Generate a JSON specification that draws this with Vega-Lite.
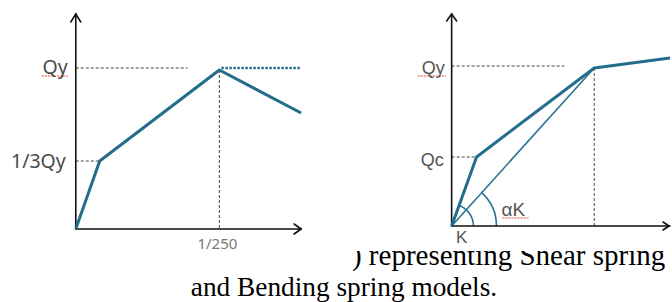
{
  "$schema": "https://vega.github.io/schema/vega-lite/v6.json",
  "width": 672,
  "height": 302,
  "autosize": {"type": "fit", "contains": "padding"},
  "padding": 0,
  "background": "white",
  "config": {"view": {"stroke": null}},
  "datasets": {
    "curves": [
      {"g": "L", "i": 0, "x": 76, "y": 229},
      {"g": "L", "i": 1, "x": 100, "y": 161},
      {"g": "L", "i": 2, "x": 220, "y": 70},
      {"g": "L", "i": 3, "x": 302, "y": 113},
      {"g": "R", "i": 0, "x": 453, "y": 226},
      {"g": "R", "i": 1, "x": 478, "y": 157},
      {"g": "R", "i": 2, "x": 596, "y": 68},
      {"g": "R", "i": 3, "x": 672, "y": 58}
    ],
    "segs": [
      {"k": "axis", "x": 76, "y": 229, "x2": 76, "y2": 14},
      {"k": "axis", "x": 76, "y": 229, "x2": 302, "y2": 229},
      {"k": "axis", "x": 76, "y": 14, "x2": 71, "y2": 22},
      {"k": "axis", "x": 76, "y": 14, "x2": 81, "y2": 22},
      {"k": "axis", "x": 302, "y": 229, "x2": 295, "y2": 224},
      {"k": "axis", "x": 302, "y": 229, "x2": 295, "y2": 234},
      {"k": "axis", "x": 453, "y": 226, "x2": 453, "y2": 14},
      {"k": "axis", "x": 453, "y": 226, "x2": 672, "y2": 226},
      {"k": "axis", "x": 453, "y": 14, "x2": 448, "y2": 21},
      {"k": "axis", "x": 453, "y": 14, "x2": 458, "y2": 21},
      {"k": "axis", "x": 671, "y": 226, "x2": 665, "y2": 222},
      {"k": "axis", "x": 671, "y": 226, "x2": 665, "y2": 230},
      {"k": "dash", "x": 76, "y": 68, "x2": 188, "y2": 68},
      {"k": "dash", "x": 76, "y": 161, "x2": 100, "y2": 161},
      {"k": "dash", "x": 220, "y": 70, "x2": 220, "y2": 229},
      {"k": "dash", "x": 453, "y": 66, "x2": 566, "y2": 66},
      {"k": "dash", "x": 453, "y": 157, "x2": 478, "y2": 157},
      {"k": "dash", "x": 596, "y": 68, "x2": 596, "y2": 226},
      {"k": "dot", "x": 222, "y": 68, "x2": 302, "y2": 68},
      {"k": "thin", "x": 453, "y": 226, "x2": 596, "y2": 68},
      {"k": "red", "x": 42, "y": 76, "x2": 69, "y2": 76},
      {"k": "red", "x": 419, "y": 76, "x2": 447, "y2": 76},
      {"k": "red", "x": 504, "y": 218, "x2": 531, "y2": 218},
      {"k": "mask", "x": 345, "y": 236, "x2": 672, "y2": 251}
    ],
    "origin": [{"x": 453, "y": 226}],
    "labels": [
      {"g": "lr", "x": 68, "y": 74, "t": "Qy"},
      {"g": "lr", "x": 66, "y": 168, "t": "1/3Qy"},
      {"g": "tick", "x": 218, "y": 249, "t": "1/250"},
      {"g": "rr", "x": 446, "y": 74, "t": "Qy"},
      {"g": "rr", "x": 445, "y": 166, "t": "Qc"},
      {"g": "rc", "x": 463, "y": 243, "t": "K"},
      {"g": "rl", "x": 503, "y": 216, "t": "αK"},
      {"g": "cap1", "x": 353, "y": 265, "t": ") representing Shear spring"},
      {"g": "cap2", "x": 345, "y": 296, "t": "and Bending spring models."}
    ]
  },
  "encoding": {
    "x": {"field": "x", "type": "quantitative", "scale": {"domain": [0, 672], "nice": false, "zero": false}, "axis": null},
    "y": {"field": "y", "type": "quantitative", "scale": {"domain": [0, 302], "nice": false, "zero": false, "reverse": true}, "axis": null}
  },
  "layer": [
    {
      "data": {"name": "labels"},
      "transform": [{"filter": "datum.g === 'cap1'"}],
      "mark": {"type": "text", "align": "left", "baseline": "alphabetic", "font": "Liberation Serif", "fontSize": 29, "color": "#000000"},
      "encoding": {"text": {"field": "t"}}
    },
    {
      "data": {"name": "segs"},
      "transform": [{"filter": "datum.k === 'mask'"}],
      "mark": {"type": "rect", "color": "white"},
      "encoding": {"x2": {"field": "x2"}, "y2": {"field": "y2"}}
    },
    {
      "data": {"name": "labels"},
      "transform": [{"filter": "datum.g === 'cap2'"}],
      "mark": {"type": "text", "align": "center", "baseline": "alphabetic", "font": "Liberation Serif", "fontSize": 27.3, "color": "#000000"},
      "encoding": {"text": {"field": "t"}}
    },
    {
      "data": {"name": "segs"},
      "transform": [{"filter": "datum.k === 'dash'"}],
      "mark": {"type": "rule", "color": "#444444", "strokeWidth": 1, "strokeDash": [3, 2]},
      "encoding": {"x2": {"field": "x2"}, "y2": {"field": "y2"}}
    },
    {
      "data": {"name": "segs"},
      "transform": [{"filter": "datum.k === 'red'"}],
      "mark": {"type": "rule", "color": "#e04848", "strokeWidth": 1, "strokeDash": [2, 1]},
      "encoding": {"x2": {"field": "x2"}, "y2": {"field": "y2"}}
    },
    {
      "data": {"name": "segs"},
      "transform": [{"filter": "datum.k === 'dot'"}],
      "mark": {"type": "rule", "color": "#2a6f90", "strokeWidth": 2.5, "strokeDash": [2.5, 1.5]},
      "encoding": {"x2": {"field": "x2"}, "y2": {"field": "y2"}}
    },
    {
      "data": {"name": "segs"},
      "transform": [{"filter": "datum.k === 'thin'"}],
      "mark": {"type": "rule", "color": "#2a7393", "strokeWidth": 1.6},
      "encoding": {"x2": {"field": "x2"}, "y2": {"field": "y2"}}
    },
    {
      "data": {"name": "origin"},
      "mark": {"type": "arc", "theta": 0.314, "theta2": 1.5708, "radius": 21, "radius2": 22.6, "color": "#2a7393"},
      "encoding": {}
    },
    {
      "data": {"name": "origin"},
      "mark": {"type": "arc", "theta": 0.733, "theta2": 1.5708, "radius": 44, "radius2": 45.6, "color": "#2a7393"},
      "encoding": {}
    },
    {
      "data": {"name": "segs"},
      "transform": [{"filter": "datum.k === 'axis'"}],
      "mark": {"type": "rule", "color": "#111111", "strokeWidth": 1.6, "strokeCap": "round"},
      "encoding": {"x2": {"field": "x2"}, "y2": {"field": "y2"}}
    },
    {
      "data": {"name": "curves"},
      "mark": {"type": "line", "color": "#256c8c", "strokeWidth": 3, "strokeJoin": "round"},
      "encoding": {"detail": {"field": "g"}, "order": {"field": "i", "type": "quantitative"}}
    },
    {
      "data": {"name": "labels"},
      "transform": [{"filter": "datum.g === 'lr'"}],
      "mark": {"type": "text", "align": "right", "baseline": "alphabetic", "font": "Noto Sans", "fontSize": 19.5, "color": "#4a4a4a"},
      "encoding": {"text": {"field": "t"}}
    },
    {
      "data": {"name": "labels"},
      "transform": [{"filter": "datum.g === 'tick'"}],
      "mark": {"type": "text", "align": "center", "baseline": "alphabetic", "font": "Noto Sans", "fontSize": 15, "color": "#777777"},
      "encoding": {"text": {"field": "t"}}
    },
    {
      "data": {"name": "labels"},
      "transform": [{"filter": "datum.g === 'rr'"}],
      "mark": {"type": "text", "align": "right", "baseline": "alphabetic", "font": "Liberation Sans", "fontSize": 18, "color": "#555555"},
      "encoding": {"text": {"field": "t"}}
    },
    {
      "data": {"name": "labels"},
      "transform": [{"filter": "datum.g === 'rc'"}],
      "mark": {"type": "text", "align": "center", "baseline": "alphabetic", "font": "Liberation Sans", "fontSize": 17, "color": "#555555"},
      "encoding": {"text": {"field": "t"}}
    },
    {
      "data": {"name": "labels"},
      "transform": [{"filter": "datum.g === 'rl'"}],
      "mark": {"type": "text", "align": "left", "baseline": "alphabetic", "font": "Liberation Sans", "fontSize": 19, "color": "#555555"},
      "encoding": {"text": {"field": "t"}}
    }
  ]
}
